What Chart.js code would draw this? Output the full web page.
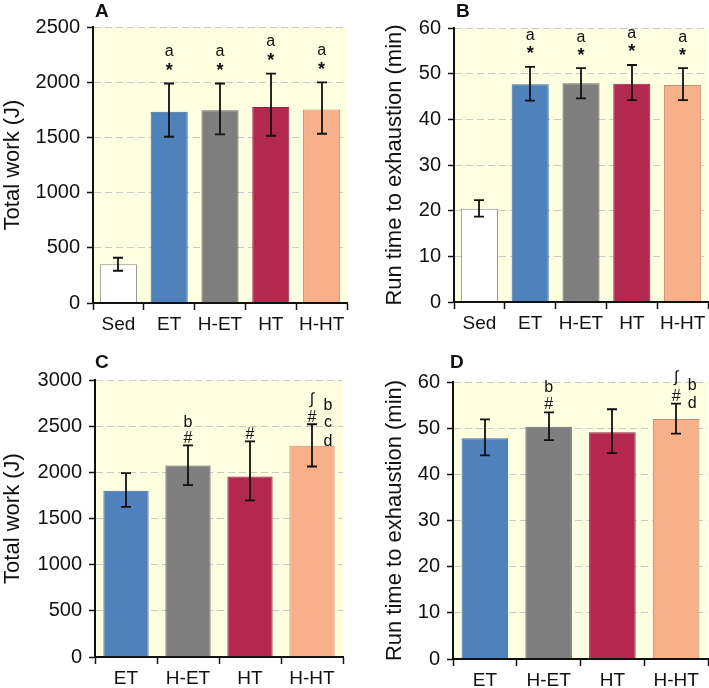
<!DOCTYPE html>
<html>
<head>
<meta charset="utf-8">
<script src="https://cdn.jsdelivr.net/npm/chart.js@4"></script>
<style>
  html, body { margin:0; padding:0; background:#fff; }
  #wrap { position:relative; width:709px; height:688px; }
  canvas { position:absolute; }
</style>
</head>
<body>
<div id="wrap">
  <canvas id="cA" width="354" height="340" style="left:0;top:0"></canvas>
  <canvas id="cB" width="355" height="340" style="left:354px;top:0"></canvas>
  <canvas id="cC" width="354" height="348" style="left:0;top:340px"></canvas>
  <canvas id="cD" width="355" height="348" style="left:354px;top:340px"></canvas>
</div>
<script>
// groups
const groupsAB = ['Sed','ET','H-ET','HT','H-HT'];
const groupsCD = ['ET','H-ET','HT','H-HT'];

// A: total work (J), mean and error bar ends
const workA   = [352, 1732, 1746, 1776, 1752];
const workALo = [292, 1506, 1528, 1515, 1533];
const workAHi = [410, 1988, 1988, 2078, 1999];

// B: run time to exhaustion (min)
const timeB   = [20.4, 47.7, 47.9, 47.8, 47.5];
const timeBLo = [18.7, 44.1, 44.6, 44.2, 44.2];
const timeBHi = [22.3, 51.5, 51.2, 51.9, 51.2];

// C: total work (J)
const workC   = [1800, 2075, 1955, 2289];
const workCLo = [1626, 1862, 1696, 2063];
const workCHi = [1992, 2292, 2336, 2521];

// D: run time to exhaustion (min)
const timeD   = [47.8, 50.3, 49.1, 52.0];
const timeDLo = [44.1, 47.4, 44.6, 48.8];
const timeDHi = [51.9, 53.4, 54.1, 55.3];

// significance marks (stacked above the error bar, and a column beside it)
const marksA = [[], ['a','*'], ['a','*'], ['a','*'], ['a','*']];
const marksB = [[], ['a','*'], ['a','*'], ['a','*'], ['a','*']];
const marksC = [[], ['b','#'], ['#'], ['∫','#']];
const sideC  = [[], [], [], ['b','c','d']];
const marksD = [[], ['b','#'], [], ['∫','#']];
const sideD  = [[], [], [], ['b','d']];

// y ticks
const ticksA = [0, 500, 1000, 1500, 2000, 2500];
const ticksB = [0, 10, 20, 30, 40, 50, 60];
const ticksC = [0, 500, 1000, 1500, 2000, 2500, 3000];
const ticksD = [0, 10, 20, 30, 40, 50, 60];

const FONT = 'Arial, "Liberation Sans", Helvetica, sans-serif';
const fillsAB   = ['#ffffff','#4f81bd','#7f7f7f','#b2284f','#f7b08a'];
const bordersAB = ['#8a8a8a','#3f6a9c','#666666','#8e1f3e','#c98c6c'];
const fillsCD   = fillsAB.slice(1);
const bordersCD = bordersAB.slice(1);

function centerText(ctx, txt, x, cy) {
  const m = ctx.measureText(txt);
  ctx.fillText(txt, x, cy + (m.actualBoundingBoxAscent - m.actualBoundingBoxDescent) / 2);
}

const decor = {
  id: 'decor',
  beforeDraw(chart, args, o) {
    const {ctx, chartArea: a} = chart;
    ctx.save();
    ctx.fillStyle = '#fefee0';
    ctx.fillRect(a.left, a.top, a.right - a.left, a.bottom - a.top);
    ctx.restore();
  },
  afterDatasetsDraw(chart, args, o) {
    const {ctx} = chart;
    const y = chart.scales.y;
    const bars = chart.getDatasetMeta(0).data;
    ctx.save();
    ctx.strokeStyle = '#111';
    ctx.lineWidth = 1.8;
    o.lo.forEach((lo, i) => {
      const cx = Math.round(bars[i].x);
      const y1 = y.getPixelForValue(lo), y2 = y.getPixelForValue(o.hi[i]);
      ctx.beginPath();
      ctx.moveTo(cx, y1); ctx.lineTo(cx, y2);
      ctx.moveTo(cx - 5, y1); ctx.lineTo(cx + 5, y1);
      ctx.moveTo(cx - 5, y2); ctx.lineTo(cx + 5, y2);
      ctx.stroke();
    });
    ctx.fillStyle = '#111';
    ctx.textAlign = 'center';
    o.marks.forEach((list, i) => {
      const cx = bars[i].x;
      const top = y.getPixelForValue(o.hi[i]);
      list.forEach((t, k) => {
        const cy = top - o.gap - (list.length - 1 - k) * o.step;
        ctx.font = (t === '*' ? 'bold 18px ' : '16px ') + FONT;
        centerText(ctx, t, cx, cy);
      });
      (o.side[i] || []).forEach((t, k) => {
        ctx.font = '16px ' + FONT;
        centerText(ctx, t, cx + 16, top - 20 + k * 18);
      });
    });
    ctx.font = 'bold 19px ' + FONT;
    ctx.textAlign = 'left';
    centerText(ctx, o.letter, o.lx, o.ly);
    ctx.restore();
  }
};

function makeChart(id, cats, vals, lo, hi, fills, borders, ticks, yTitle, L) {
  return new Chart(document.getElementById(id), {
    type: 'bar',
    data: { labels: cats, datasets: [{ data: vals, backgroundColor: fills, borderColor: borders, borderWidth: 1,
      borderSkipped: 'start', barPercentage: 0.73, categoryPercentage: 1 }] },
    options: {
      responsive: false, animation: false,
      layout: { padding: { top: L.top, right: L.right, left: 0, bottom: 0 } },
      plugins: {
        legend: { display: false }, tooltip: { enabled: false },
        decor: { lo, hi, marks: L.marks, side: L.side, gap: L.gap, step: L.step, letter: L.letter, lx: L.lx, ly: L.ly }
      },
      scales: {
        x: {
          afterFit(s) { s.height = L.xh; },
          grid: { offset: true, drawOnChartArea: false, tickLength: 7, tickColor: '#111', tickWidth: 1.5 },
          border: { color: '#111', width: 2, z: 1 },
          ticks: { color: '#111', padding: 3, maxRotation: 0, minRotation: 0, autoSkip: false,
            font: { family: FONT, size: 19 } }
        },
        y: {
          min: ticks[0], max: ticks[ticks.length - 1],
          afterFit(s) { s.width = L.yw; },
          afterBuildTicks(s) { s.ticks = ticks.map(v => ({ value: v })); },
          grid: { color: '#c9c9c9', lineWidth: 1, tickLength: 6, tickColor: '#111', tickWidth: 1.5, tickBorderDash: [] },
          border: { color: '#111', width: 2, dash: [7, 4] },
          ticks: { color: '#111', padding: 7, font: { family: FONT, size: 20 }, callback: v => String(v) },
          title: { display: true, text: yTitle, color: '#111', font: { family: FONT, size: 22 }, padding: { top: L.tp, bottom: 0 } }
        }
      }
    },
    plugins: [decor]
  });
}

makeChart('cA', groupsAB, workA, workALo, workAHi, fillsAB, bordersAB, ticksA, 'Total work (J)',
  { top: 27, right: 7, xh: 37, yw: 93, tp: 0, marks: marksA, side: [], gap: 17, step: 15, letter: 'A', lx: 95, ly: 10 });
makeChart('cB', groupsAB, timeB, timeBLo, timeBHi, fillsAB, bordersAB, ticksB, 'Run time to exhaustion (min)',
  { top: 28, right: 1, xh: 38, yw: 100, tp: 28, marks: marksB, side: [], gap: 17, step: 14, letter: 'B', lx: 102, ly: 10 });
makeChart('cC', groupsCD, workC, workCLo, workCHi, fillsCD, bordersCD, ticksC, 'Total work (J)',
  { top: 40, right: 11, xh: 31, yw: 95, tp: 0, marks: marksC, side: sideC, gap: 8.5, step: 16, letter: 'C', lx: 95, ly: 21 });
makeChart('cD', groupsCD, timeD, timeDLo, timeDHi, fillsCD, bordersCD, ticksD, 'Run time to exhaustion (min)',
  { top: 42, right: 1, xh: 29, yw: 99, tp: 28, marks: marksD, side: sideD, gap: 9, step: 17, letter: 'D', lx: 96, ly: 21 });
</script>
</body>
</html>
